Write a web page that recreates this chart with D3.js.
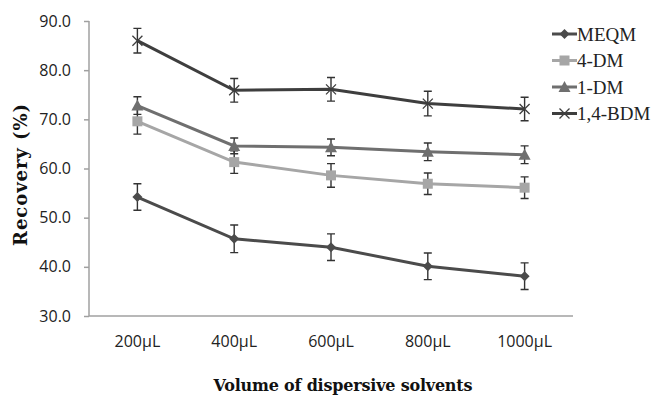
<!DOCTYPE html>
<html>
<head>
<meta charset="utf-8">
<script src="https://cdn.jsdelivr.net/npm/d3@7"></script>
<style>
  body { margin: 0; background: #fff; }
</style>
</head>
<body>
<div id="chart"></div>
<script>
// chart data
const categories = ['200\u00b5L', '400\u00b5L', '600\u00b5L', '800\u00b5L', '1000\u00b5L'];
const seriesNames = ['MEQM', '4-DM', '1-DM', '1,4-BDM'];
const meqm = [54.2, 45.7, 44.0, 40.1, 38.1];
const meqmErr = [2.7, 2.8, 2.7, 2.7, 2.7];
const dm4 = [69.6, 61.3, 58.6, 56.9, 56.1];
const dm4Err = [2.6, 2.3, 2.4, 2.2, 2.2];
const dm1 = [72.8, 64.6, 64.3, 63.4, 62.8];
const dm1Err = [1.8, 1.6, 1.7, 1.8, 1.8];
const bdm = [86.0, 75.9, 76.1, 73.2, 72.1];
const bdmErr = [2.5, 2.4, 2.4, 2.5, 2.4];
const yTicks = [30, 40, 50, 60, 70, 80, 90];

const width = 656, height = 399;
const margin = { l: 89, r: 83, t: 21, b: 83 };

const svg = d3.select('#chart').append('svg')
  .attr('width', width)
  .attr('height', height);

const x = d3.scaleBand()
  .domain(categories)
  .range([margin.l, width - margin.r]);
const y = d3.scaleLinear()
  .domain([30, 90])
  .range([height - margin.b, margin.t]);

const series = [
  { name: seriesNames[0], values: meqm, err: meqmErr, color: '#4b4b4b', marker: 'diamond' },
  { name: seriesNames[1], values: dm4, err: dm4Err, color: '#a6a6a6', marker: 'square' },
  { name: seriesNames[2], values: dm1, err: dm1Err, color: '#6f6f6f', marker: 'triangle' },
  { name: seriesNames[3], values: bdm, err: bdmErr, color: '#3e3e3e', marker: 'cross' },
];

const cx = (i) => x(categories[i]) + x.bandwidth() / 2;

// y axis
const yAxis = (g) => g
  .attr('transform', `translate(${margin.l},0)`)
  .call(d3.axisLeft(y).tickValues(yTicks).tickSize(5).tickPadding(13)
    .tickFormat(d3.format('.1f')))
  .call((gr) => gr.select('.domain').remove());
const yg = svg.append('g').call(yAxis);
yg.selectAll('line').attr('stroke', '#a0a0a0').attr('stroke-width', 1.5);
yg.selectAll('text')
  .style('font-family', '"Open Sans", sans-serif')
  .style('font-size', '16px')
  .attr('fill', '#222');

svg.append('line')
  .attr('x1', margin.l).attr('x2', margin.l)
  .attr('y1', y(90)).attr('y2', y(30))
  .attr('stroke', '#a0a0a0').attr('stroke-width', 1.5);

// x axis
svg.append('line')
  .attr('x1', margin.l).attr('x2', width - margin.r)
  .attr('y1', y(30)).attr('y2', y(30))
  .attr('stroke', '#a0a0a0').attr('stroke-width', 1.5);
svg.append('g')
  .selectAll('text')
  .data(categories)
  .join('text')
    .attr('x', (d, i) => cx(i))
    .attr('y', 341)
    .attr('text-anchor', 'middle')
    .attr('dominant-baseline', 'central')
    .attr('fill', '#222')
    .style('font-family', '"Open Sans", sans-serif')
    .style('font-size', '16px')
    .text((d) => d);

// axis titles
svg.append('text')
  .attr('x', 343)
  .attr('y', 385)
  .attr('text-anchor', 'middle')
  .attr('dominant-baseline', 'central')
  .attr('fill', '#111')
  .attr('textLength', 259)
  .style('font-family', '"DejaVu Serif", serif')
  .style('font-weight', 'bold')
  .style('font-size', '16px')
  .text('Volume of dispersive solvents');
svg.append('text')
  .attr('transform', 'translate(20,175) rotate(-90)')
  .attr('text-anchor', 'middle')
  .attr('dominant-baseline', 'central')
  .attr('fill', '#111')
  .attr('textLength', 142)
  .style('font-family', '"DejaVu Serif", serif')
  .style('font-weight', 'bold')
  .style('font-size', '18px')
  .text('Recovery (%)');

function drawMarker(g, type, px, py, color) {
  if (type === 'diamond') {
    g.append('path')
      .attr('d', `M${px} ${py - 5} L${px + 5} ${py} L${px} ${py + 5} L${px - 5} ${py} Z`)
      .attr('fill', color);
  } else if (type === 'square') {
    g.append('rect')
      .attr('x', px - 5).attr('y', py - 5)
      .attr('width', 10).attr('height', 10)
      .attr('fill', color);
  } else if (type === 'triangle') {
    g.append('path')
      .attr('d', `M${px} ${py - 6} L${px + 6} ${py + 5} L${px - 6} ${py + 5} Z`)
      .attr('fill', color);
  } else {
    g.append('path')
      .attr('d', `M${px - 5} ${py - 5} L${px + 5} ${py + 5} M${px - 5} ${py + 5} L${px + 5} ${py - 5}`)
      .attr('stroke', color)
      .attr('stroke-width', 1.3)
      .attr('fill', 'none');
  }
}

// lines, error bars, markers
const line = d3.line()
  .x((d, i) => cx(i))
  .y((d) => y(d));

series.forEach((s) => {
  const g = svg.append('g').attr('class', 'series');
  g.append('path')
    .datum(s.values)
    .attr('d', line)
    .attr('fill', 'none')
    .attr('stroke', s.color)
    .attr('stroke-width', 3);
  s.values.forEach((v, i) => {
    const px = cx(i);
    const top = y(v + s.err[i]);
    const bot = y(v - s.err[i]);
    g.append('path')
      .attr('d', `M${px} ${top} L${px} ${bot} M${px - 4} ${top} L${px + 4} ${top} M${px - 4} ${bot} L${px + 4} ${bot}`)
      .attr('stroke', '#333')
      .attr('stroke-width', 1.4)
      .attr('fill', 'none');
    drawMarker(g, s.marker, px, y(v), s.color);
  });
});

// legend
const legend = svg.append('g').attr('class', 'legend');
series.forEach((s, i) => {
  const ly = 34 + i * 26.5;
  legend.append('line')
    .attr('x1', 552).attr('x2', 577)
    .attr('y1', ly).attr('y2', ly)
    .attr('stroke', s.color)
    .attr('stroke-width', 3);
  drawMarker(legend, s.marker, 564.5, ly, s.color);
  legend.append('text')
    .attr('x', 577)
    .attr('y', ly)
    .attr('dominant-baseline', 'central')
    .attr('fill', '#222')
    .style('font-family', '"Liberation Serif", serif')
    .style('font-size', '19px')
    .text(s.name);
});
</script>
</body>
</html>
